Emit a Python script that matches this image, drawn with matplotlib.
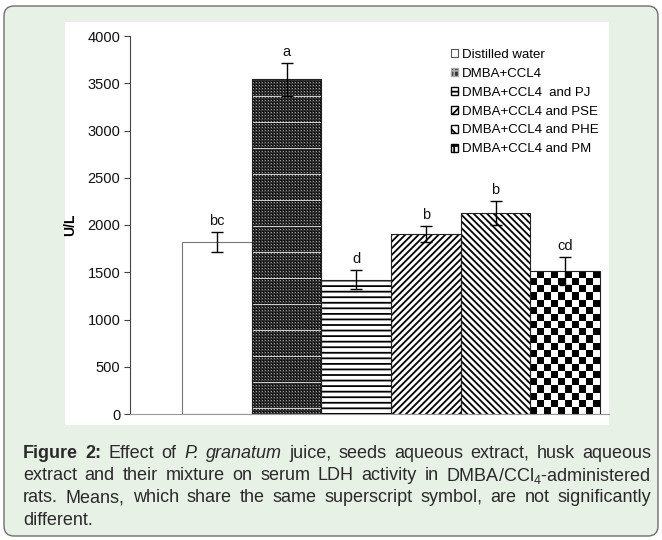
import numpy as np
import matplotlib
matplotlib.use("Agg")
import matplotlib.pyplot as plt
from matplotlib.patches import Patch, FancyBboxPatch, Rectangle
from matplotlib.transforms import IdentityTransform

plt.rcParams['font.family'] = ['Liberation Sans', 'DejaVu Sans']
plt.rcParams['mathtext.fontset'] = 'custom'
plt.rcParams['mathtext.rm'] = 'Liberation Sans'
plt.rcParams['hatch.linewidth'] = 1.3

# data
groups = ["Distilled water", "DMBA+CCL4", "DMBA+CCL4  and PJ",
          "DMBA+CCL4 and PSE", "DMBA+CCL4 and PHE", "DMBA+CCL4 and PM"]
ldh = [1820, 3540, 1420, 1900, 2130, 1510]
ldh_err = [105, 175, 100, 85, 125, 150]
letters = ["bc", "a", "d", "b", "b", "cd"]
yticks = [0, 500, 1000, 1500, 2000, 2500, 3000, 3500, 4000]

hatches = [None, None, '---', '/////', '\\\\\\\\\\', None]
edge_cols = ['#777777', '#222222', '#222222', '#222222', '#222222', '#222222']

W, H = 662, 540
PX_PER_UNIT = 378 / 4000  # vertical pixels per U/L, for the textures

fig = plt.figure(figsize=(W / 100, H / 100), dpi=100, facecolor='white')

# green rounded box and white chart panel
box = FancyBboxPatch((4, 4), 654, 530, boxstyle="round,pad=0,rounding_size=10",
                     facecolor='#e7f1e5', edgecolor='#6f6f6f', linewidth=1.0,
                     transform=IdentityTransform(), zorder=-2)
fig.patches.append(box)
panel = Rectangle((65 / W, 1 - 425 / H), 544 / W, 403 / H, facecolor='white',
                  edgecolor='none', transform=fig.transFigure, zorder=-1)
fig.patches.append(panel)

ax = fig.add_axes([130 / W, 1 - 414 / H, (609 - 130) / W, (414 - 36) / H])
ax.set_facecolor('none')

x = np.arange(len(groups))
# faces, then patterns, then outlines on top
faces = ax.bar(x, ldh, width=1.0, color='white', linewidth=0, zorder=2)
for i in range(len(groups)):
    if hatches[i]:
        ax.bar(x[i], ldh[i], width=1.0, facecolor='none', edgecolor='black',
               hatch=hatches[i], linewidth=0, zorder=2.5)
ax.bar(x, ldh, width=1.0, facecolor='none', edgecolor=edge_cols, linewidth=0.8, zorder=3)


def texture(i, rows, cols, kind):
    r, c = np.indices((rows, cols))
    if kind == 'checker':
        arr = ((r + c) % 2).astype(float)
    else:
        # dark fine dotted mesh
        arr = np.full((rows, cols), 0.07)
        arr[(r % 3 == 0) | (c % 3 == 0)] = 0.2
        arr[(r % 3 == 1) & (c % 3 == 1)] = 0.62
        arr[r % 26 == 5] = 0.8
    im = ax.imshow(arr, cmap='gray', vmin=0, vmax=1, interpolation='nearest',
                   aspect='auto', origin='lower',
                   extent=(x[i] - 0.5, x[i] + 0.5, 0, ldh[i]), zorder=2.2)
    im.set_clip_path(faces[i])


texture(1, int(round(ldh[1] * PX_PER_UNIT)), 70, 'mesh')
texture(5, max(1, int(round(ldh[5] * PX_PER_UNIT / 7))), 10, 'checker')

ax.errorbar(x, ldh, yerr=ldh_err, fmt='none', ecolor='black', elinewidth=1.0,
            capsize=4, capthick=1.0, zorder=4)
for xi, v, e, lab in zip(x, ldh, ldh_err, letters):
    ax.annotate(lab, (xi, v + e), xytext=(0, 5), textcoords='offset points',
                ha='center', va='baseline', fontsize=10.5, color='#111111')

ax.set_xlim(-1.25, 5.63)
ax.set_ylim(0, 4000)
ax.set_yticks(yticks)
ax.set_xticks([])
for s in ['top', 'right']:
    ax.spines[s].set_visible(False)
ax.spines['left'].set_color('#444444')
ax.spines['bottom'].set_color('#999999')
ax.tick_params(axis='y', direction='out', length=4, width=0.8, color='#444444',
               labelsize=10.5, labelcolor='#111111', pad=3)
ax.set_ylabel("U/L", fontsize=10, fontweight='bold')
ax.yaxis.set_label_coords(-0.11, 0.5)

handles = [
    Patch(facecolor='white', edgecolor='#555555', linewidth=0.8, label=groups[0]),
    Patch(facecolor='#303030', edgecolor='#aaaaaa', hatch='++', label=groups[1]),
    Patch(facecolor='white', edgecolor='black', hatch='---', label=groups[2]),
    Patch(facecolor='white', edgecolor='black', hatch='///', label=groups[3]),
    Patch(facecolor='white', edgecolor='black', hatch='\\\\\\', label=groups[4]),
    Patch(facecolor='white', edgecolor='black', hatch='++', label=groups[5]),
]
fig.legend(handles=handles, loc='upper left', bbox_to_anchor=(451 / W, 1 - 49 / H),
           frameon=False, fontsize=9.5, handlelength=0.55, handleheight=0.55,
           handletextpad=0.25, labelspacing=0.52, borderpad=0, borderaxespad=0)

# justified caption
renderer = fig.canvas.get_renderer()
cap_lines = [
    [("Figure", 'bold'), ("2:", 'bold'), ("Effect", None), ("of", None),
     ("P.", 'italic'), ("granatum", 'italic'), ("juice,", None), ("seeds", None),
     ("aqueous", None), ("extract,", None), ("husk", None), ("aqueous", None)],
    [(w, None) for w in "extract and their mixture on serum LDH activity in".split()]
    + [("DMBA/CCl$_4$-administered", None)],
    [(w, None) for w in "rats. Means, which share the same superscript symbol, are not significantly".split()],
    [("different.", None)],
]
cap_y = [453, 475.5, 498, 520.5]
x_left, x_right = 23, 651
for words, yy in zip(cap_lines, cap_y):
    objs = []
    for w, st in words:
        kw = {}
        if st == 'bold':
            kw['fontweight'] = 'bold'
        if st == 'italic':
            kw['fontstyle'] = 'italic'
        t = fig.text(x_left / W, 1 - yy / H, w, fontsize=13, color='#2a2a2a',
                     va='center', ha='left', **kw)
        objs.append(t)
    widths = [t.get_window_extent(renderer).width for t in objs]
    if len(objs) > 1:
        gap = (x_right - x_left - sum(widths)) / (len(objs) - 1)
    else:
        gap = 4.0
    pos = x_left
    for t, wd in zip(objs, widths):
        t.set_x(pos / W)
        pos += wd + gap

fig.savefig("out.png", dpi=100)
